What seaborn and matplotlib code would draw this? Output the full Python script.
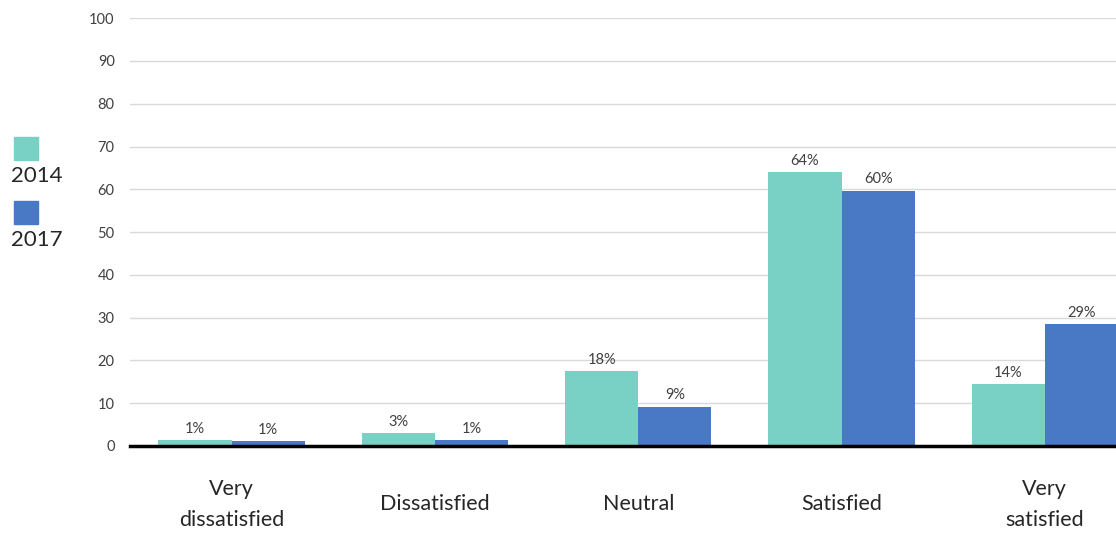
import matplotlib
matplotlib.use("Agg")
import matplotlib.pyplot as plt
import pandas as pd
import seaborn as sns
from matplotlib.patches import Rectangle

categories = ["Very\ndissatisfied", "Dissatisfied", "Neutral", "Satisfied", "Very\nsatisfied"]
values_2014 = [1.4, 3.1, 17.6, 64.1, 14.5]
values_2017 = [1.2, 1.3, 9.2, 59.7, 28.4]
labels_2014 = ["1%", "3%", "18%", "64%", "14%"]
labels_2017 = ["1%", "1%", "9%", "60%", "29%"]
years = ["2014", "2017"]
colors = ["#79D0C4", "#4979C4"]

df = pd.DataFrame({
    "category": categories * 2,
    "year": [years[0]] * 5 + [years[1]] * 5,
    "value": values_2014 + values_2017,
})

sns.set_theme(style="white")
plt.rcParams["font.family"] = ["Lato", "DejaVu Sans"]
text_col = "#404040"

fig = plt.figure(figsize=(11.16, 5.34), dpi=100)
ax = fig.add_axes([0.1165, 0.1648, 0.8835, 0.8012])

sns.barplot(data=df, x="category", y="value", hue="year", palette=colors,
            width=0.72, saturation=1, legend=False, linewidth=0, ax=ax, zorder=2)

for cont, labs in zip(ax.containers, [labels_2014, labels_2017]):
    ax.bar_label(cont, labels=labs, padding=3, fontsize=10.5, color=text_col)

ax.set_ylim(0, 100)
ax.set_xlim(-0.5, 4.35)
ax.set_yticks(range(0, 101, 10))
ax.yaxis.grid(True, color="#D9D9D9", linewidth=1, zorder=0)
ax.set_axisbelow(True)
for s in ["top", "right", "left"]:
    ax.spines[s].set_visible(False)
ax.spines["bottom"].set_color("black")
ax.spines["bottom"].set_linewidth(2.5)
ax.spines["bottom"].set_zorder(3)
ax.set_xlabel("")
ax.set_ylabel("")
ax.tick_params(axis="y", length=0, pad=11, labelsize=10.5, labelcolor=text_col)
ax.tick_params(axis="x", length=0, pad=42, labelsize=15.5, labelcolor="#262626")
for t in ax.get_xticklabels():
    t.set_va("center")
    t.set_linespacing(1.65)

# legend: swatch above each year label
for i, (yr, c) in enumerate(zip(years, colors)):
    y0 = 1 - (160 + i * 64) / 534
    fig.add_artist(Rectangle((14 / 1116, y0), 24 / 1116, 23 / 534,
                             transform=fig.transFigure, color=c))
    fig.text(11 / 1116, 1 - (176 + i * 64) / 534, yr, fontsize=16,
             color="#262626", va="center", ha="left")

fig.savefig("out.png", dpi=100)
